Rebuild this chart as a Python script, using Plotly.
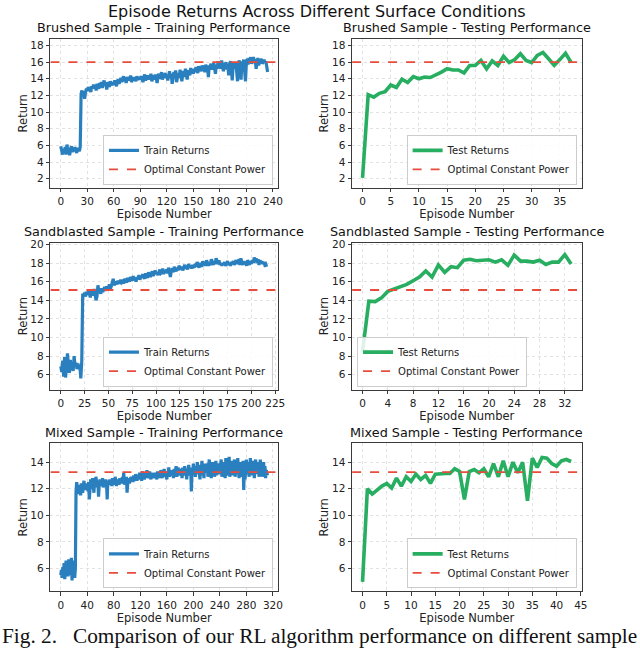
import plotly.graph_objects as go

# returns per episode
brushed_train = [
    5.9, 5.3, 4.9, 5.6, 5.1, 5.8, 4.9, 6.1, 5.2, 5.7, 4.8, 5.5, 5.9, 5.2, 5.6, 5.3, 5.8, 5.4, 5.1, 5.7, 5.5, 5.3, 5.8,
    12.2, 12.6, 11.9, 12.5, 11.6, 12.4, 12.8,
    12.5, 13.0, 12.7, 12.9, 12.4, 13.1, 12.8, 13.3, 12.9, 13.2, 12.6, 13.4, 13.0, 12.8, 13.5,
    13.1, 13.6, 12.9, 13.3, 13.8, 13.2, 13.5, 12.7, 13.6, 13.3, 13.0, 13.7, 13.4, 13.2, 13.6,
    13.3, 13.8, 13.5, 13.1, 13.7, 13.9, 13.4, 13.8, 14.1, 13.6, 13.9, 14.3, 13.7, 14.0, 13.5,
    14.2, 13.9, 14.1, 13.8, 14.4, 13.6, 14.0, 14.2, 13.8, 14.1, 13.7, 14.3, 13.9, 14.0, 14.2,
    13.9, 14.3, 14.0, 13.6, 14.2, 14.5, 13.8, 14.1, 14.4, 13.9, 14.3, 14.0, 14.6, 13.7, 14.2,
    14.4, 13.9, 14.5, 14.1, 13.5, 14.3, 14.6, 14.0, 14.2, 14.8, 13.9, 14.4, 14.1, 14.7, 14.2,
    14.5, 13.8, 14.3, 14.9, 14.1, 14.6, 13.4, 14.4, 14.8, 14.2, 15.0, 13.6, 14.5, 14.7, 14.1,
    15.1, 14.3, 13.7, 14.6, 14.9, 14.2, 15.2, 14.5, 13.9, 14.8, 15.0, 14.4, 15.3, 14.7, 14.9,
    14.6, 15.2, 14.8, 15.4, 15.0, 14.7, 15.5, 15.1, 15.3, 14.9, 15.6, 15.2, 15.4, 14.8, 15.7,
    15.3, 15.5, 14.2, 15.6, 15.4, 15.8, 15.1, 15.5, 15.9, 15.3, 14.6, 15.7, 15.2, 16.1, 15.5,
    15.8, 15.2, 16.2, 15.4, 14.9, 15.9, 15.5, 16.0, 15.1, 15.7, 14.4, 15.8, 16.1, 15.3, 13.8,
    15.6, 15.9, 15.2, 16.0, 14.9, 13.7, 15.8, 16.2, 15.4, 13.9, 16.1, 15.6, 16.3, 14.8, 13.7,
    15.9, 16.4, 15.7, 16.5, 16.1, 16.6, 15.8, 16.3, 16.6, 15.9, 16.4, 15.2, 16.2, 16.5, 15.6,
    16.3, 16.0, 16.4, 15.8, 16.2, 16.3, 15.9, 16.1, 15.5, 14.8,
]
brushed_test = [
    2.1, 12.1, 11.8, 12.25, 12.45, 13.25, 12.95, 13.95, 13.55, 14.25, 14.0, 14.2, 14.15,
    14.45, 14.8, 15.2, 15.05, 15.05, 14.7, 15.6, 15.6, 16.2, 15.2, 16.15, 15.6, 16.7,
    15.95, 16.3, 17.0, 16.2, 15.95, 16.8, 17.15, 16.4, 15.6, 16.3, 17.05, 15.95,
]
sand_train = [
    6.9, 6.3, 7.5, 5.8, 7.9, 5.7, 6.8, 8.3, 7.1, 6.2, 7.6, 6.5, 7.0, 6.4, 8.0, 6.9, 7.3, 6.6, 7.2, 6.8, 7.0, 5.6, 7.4,
    14.7, 14.5, 14.8, 14.4, 14.9, 14.6, 15.0, 14.7, 14.3, 15.1, 14.8, 14.5, 15.2, 14.6,
    14.0, 14.4, 15.6, 14.9, 15.1, 14.7, 15.3, 14.9, 15.2, 15.4, 15.0, 15.5, 15.1,
    15.3, 15.7, 15.2, 15.5, 15.9, 16.3, 15.6, 15.8, 16.0, 15.7, 16.1, 15.8, 16.0, 15.9, 16.2,
    16.0, 15.8, 16.3, 16.1, 15.9, 16.4, 16.2, 16.0, 16.5, 16.3, 16.1, 16.6, 16.2, 16.4, 16.0,
    16.5, 16.3, 16.7, 16.2, 16.6, 16.4, 16.8, 16.5, 16.3, 16.9, 16.6, 16.4, 17.0, 16.7, 16.5,
    16.8, 17.1, 16.6, 16.9, 17.2, 16.8, 17.0, 16.7, 17.1, 17.3, 16.9, 17.0, 17.4, 16.8, 17.2,
    17.0, 17.3, 16.9, 17.5, 17.1, 16.5, 17.2, 17.4, 17.0, 17.6, 17.3, 17.1, 17.5, 17.2, 17.7,
    17.4, 17.3, 17.6, 17.2, 17.5, 17.8, 17.4, 17.6, 17.3, 17.9, 17.5, 17.7, 17.4, 17.8, 17.6,
    17.5, 17.9, 17.6, 18.1, 17.7, 17.5, 18.0, 17.8, 17.6, 18.2, 17.8, 18.0, 17.7, 18.3, 17.9,
    17.7, 18.1, 17.8, 18.4, 18.0, 17.8, 18.2, 17.9, 18.5, 18.1, 17.9, 18.3, 17.8, 18.0, 17.7,
    18.0, 17.8, 18.1, 17.7, 17.9, 18.2, 17.8, 18.0, 17.7, 18.1, 17.9, 18.2, 17.8, 18.0, 18.3,
    17.9, 18.1, 18.4, 17.8, 18.5, 18.0, 17.8, 18.2, 17.9, 18.1, 17.7, 18.3, 18.0, 17.8, 18.2,
    17.9, 18.3, 18.0, 18.6, 18.1, 18.5, 18.0, 18.4, 17.8, 18.3, 18.0, 18.2, 17.9, 18.1, 17.8, 17.9, 17.6,
]
sand_test = [
    8.5, 13.9, 13.85, 14.25, 14.95, 15.2, 15.55, 15.7, 16.1, 16.5, 17.15, 16.5, 17.8, 17.0,
    17.6, 17.5, 18.3, 18.4, 18.25, 18.3, 18.35, 18.1, 18.35, 17.75, 18.85, 18.2, 18.2, 18.1,
    18.3, 17.85, 18.1, 18.1, 18.9, 17.9,
]
mixed_train = [
    5.5, 5.9, 5.3, 6.1, 5.6, 6.4, 5.2, 6.0, 6.6, 5.7, 6.3, 5.4, 6.7, 5.9, 6.2, 5.5, 6.8, 5.1, 6.5, 5.8, 6.6, 5.3, 6.0,
    11.8, 12.5, 12.0, 11.6, 12.3, 11.9, 12.1, 11.5, 12.4, 12.0, 11.7, 12.2, 12.6, 11.9, 12.3, 12.0, 12.1, 12.4, 11.8,
    12.5, 11.2, 11.9, 12.7, 12.3, 12.0, 12.8, 12.4, 11.7, 12.6, 12.2, 12.9, 12.4, 12.1, 12.5, 11.4, 12.3, 12.7,
    12.2, 12.5, 12.3, 12.8, 12.1, 12.4, 12.6, 12.2, 12.7, 12.4, 11.2, 12.6, 12.4, 12.4, 12.7, 12.3, 12.5, 12.2, 12.8, 12.4,
    12.6, 12.3, 12.9, 12.5, 12.2, 12.7, 12.4, 12.6, 12.3, 12.8, 12.5, 12.7, 12.4, 12.9, 12.6, 13.2, 12.3, 12.8, 12.5, 12.9,
    11.7, 12.4, 12.8, 12.5, 12.5, 12.7, 12.9, 12.6, 12.8, 12.5, 13.0, 12.7, 12.6, 13.1, 12.8, 12.6, 13.0, 12.7, 12.9, 13.2,
    12.8, 13.0, 12.6, 13.3, 12.9, 13.1, 12.7, 13.0, 13.2, 12.8, 13.4, 12.9, 13.1, 12.8, 13.3, 13.0, 12.7, 13.2, 12.9, 13.1,
    12.8, 13.0, 13.2, 12.9, 13.1, 12.7, 13.3, 13.0, 12.8, 13.2, 12.9, 13.4, 13.1, 12.8, 13.3, 13.0, 13.5, 12.9, 13.2, 13.0,
    12.7, 13.3, 13.1, 13.6, 12.9, 13.2, 13.0, 13.4, 13.0, 13.2, 12.8, 13.5, 13.1, 13.3, 13.7, 12.9, 13.2, 13.6, 13.0, 13.4,
    13.1, 13.5, 13.2, 12.8, 13.6, 13.3, 13.0, 13.7, 13.1, 13.4, 12.7, 13.5, 13.2, 13.8, 13.0, 13.3, 13.6, 11.8, 13.4, 13.1,
    13.9, 13.2, 13.5, 12.9, 13.7, 13.3, 14.0, 13.1, 13.6, 13.2, 12.7, 13.8, 13.4, 14.1, 13.0, 13.5, 12.8, 13.9, 13.2, 13.6,
    13.3, 13.9, 12.9, 13.6, 14.2, 13.1, 13.7, 12.8, 13.5, 14.0, 13.2, 13.8, 12.9, 13.4, 14.1, 13.0, 13.6, 13.1, 13.3, 13.9,
    13.1, 13.7, 14.2, 12.9, 13.5, 14.0, 13.2, 13.8, 12.8, 14.3, 13.4, 13.0, 13.9, 13.3, 14.4, 12.9, 13.6, 14.1, 13.2, 13.8,
    13.0, 13.7, 14.2, 12.9, 13.5, 13.9, 13.1, 14.3, 13.4, 12.8, 13.8, 14.0, 13.2, 13.6, 12.9, 14.1, 11.9, 13.7, 12.7, 13.9,
    14.2, 13.1, 13.5, 14.0, 12.9, 13.8, 14.3, 13.2, 13.6, 13.0, 14.1, 13.4, 12.8, 13.9, 14.2, 13.1, 13.7, 13.3, 14.0, 12.9,
    13.6, 14.2, 13.2, 13.8, 12.9, 13.5, 14.0, 13.1, 13.7, 12.8, 13.4, 13.2, 13.0,
]
mixed_test = [
    5.0, 12.0, 11.6, 11.9, 12.2, 12.4, 12.05, 12.8, 12.2, 12.9, 12.55, 13.1, 12.7, 13.0,
    12.4, 13.1, 13.15, 13.15, 13.15, 13.5, 13.3, 11.2, 13.3, 13.45, 13.2, 13.5, 12.9, 13.9,
    12.9, 14.1, 12.9, 14.0, 13.2, 14.0, 11.1, 14.3, 13.6, 14.35, 14.3, 13.9, 13.7, 14.1,
    14.2, 14.05,
]
optimal_power = [16.0, 15.1, 13.25]
samples = ["Brushed Sample", "Sandblasted Sample", "Mixed Sample"]

BLUE = "#2a80bf"
GREEN = "#27ae60"
RED = "#e74c3c"
FONT = "DejaVu Sans"
W, H = 640, 651

# pixel boxes of the six panels: (left, right, top, bottom)
col_px = [(51, 281), (356, 588)]
row_px = [(35, 185), (240, 388), (442, 591)]

panels = [
    # row, col, series, colour, name, x range, x dtick, y range
    (0, 0, brushed_train, BLUE, "Train Returns", [-11.7, 245.7], 30, [0.9, 18.8]),
    (0, 1, brushed_test, GREEN, "Test Returns", [-1.85, 38.85], 5, [0.9, 18.8]),
    (1, 0, sand_train, BLUE, "Train Returns", [-10.85, 227.85], 25, [4.4, 20.2]),
    (1, 1, sand_test, GREEN, "Test Returns", [-1.65, 34.65], 4, [4.4, 20.2]),
    (2, 0, mixed_train, BLUE, "Train Returns", [-15.6, 327.6], 40, [4.28, 15.42]),
    (2, 1, mixed_test, GREEN, "Test Returns", [-2.15, 45.15], 5, [4.28, 15.42]),
]

fig = go.Figure()
layout = {}

for i, (r, c, ys, color, name, xr, xdt, yr) in enumerate(panels):
    n = i + 1
    xa = "x" if n == 1 else f"x{n}"
    ya = "y" if n == 1 else f"y{n}"
    leg = "legend" if n == 1 else f"legend{n}"
    l, rr = col_px[c]
    t, b = row_px[r]

    fig.add_trace(go.Scatter(
        x=list(range(len(ys))), y=ys, mode="lines", name=name,
        line=dict(color=color, width=3.2 if c == 0 else 3.6),
        xaxis=xa, yaxis=ya, legend=leg,
    ))
    fig.add_trace(go.Scatter(
        x=xr, y=[optimal_power[r]] * 2, mode="lines", name="Optimal Constant Power",
        line=dict(color=RED, width=1.8, dash="dash"),
        xaxis=xa, yaxis=ya, legend=leg,
    ))

    common = dict(
        showline=True, mirror=True, linecolor="#3a3a3a", linewidth=1.2,
        showgrid=True, gridcolor="#e2e2e2", griddash="dot", gridwidth=1,
        ticks="outside", ticklen=3.5, tickcolor="#3a3a3a", zeroline=False,
        tickfont=dict(family=FONT, size=10.5, color="#222"),
    )
    layout["xaxis" if n == 1 else f"xaxis{n}"] = dict(
        common, domain=[l / W, rr / W], range=xr, tick0=0, dtick=xdt,
        anchor=ya, title=dict(text="Episode Number", standoff=0,
                              font=dict(family=FONT, size=11.5, color="#222")),
    )
    layout["yaxis" if n == 1 else f"yaxis{n}"] = dict(
        common, domain=[1 - b / H, 1 - t / H], range=yr, tick0=0, dtick=2,
        anchor=xa, title=dict(text="Return", standoff=0,
                              font=dict(family=FONT, size=11.5, color="#222")),
    )

    # legend placement: lower right, except sandblasted test (lower left)
    if (r, c) == (1, 1):
        lx, lxa = (l + 5) / W, "left"
    else:
        lx, lxa = (rr - 5) / W, "right"
    layout[leg] = dict(
        x=lx, xanchor=lxa, y=1 - (b - 3) / H, yanchor="bottom",
        bgcolor="rgba(255,255,255,0.85)", bordercolor="#cccccc", borderwidth=1,
        font=dict(family=FONT, size=10, color="#222"), tracegroupgap=0,
        itemwidth=30,
    )

    kind = "Training" if c == 0 else "Testing"
    fig.add_annotation(
        text=f"{samples[r]} - {kind} Performance", x=(l + rr) / 2 / W,
        y=1 - (t - 11) / H, xref="paper", yref="paper", showarrow=False,
        xanchor="center", yanchor="middle",
        font=dict(family=FONT, size=12.8, color="#111"),
    )

fig.add_annotation(
    text="Episode Returns Across Different Surface Conditions", x=0.5,
    y=1 - 8 / H, xref="paper", yref="paper", showarrow=False,
    xanchor="center", yanchor="middle",
    font=dict(family=FONT, size=16, color="#111"),
)
fig.add_annotation(
    text="Fig. 2.   Comparison of our RL algorithm performance on different sample",
    x=0.0, xanchor="left", y=1 - 636 / H, yref="paper", xref="paper",
    showarrow=False, yanchor="middle",
    font=dict(family="Liberation Serif", size=21.3, color="#111"),
)

fig.update_layout(
    width=W, height=H, margin=dict(l=0, r=0, t=0, b=0),
    paper_bgcolor="white", plot_bgcolor="white", **layout,
)
fig.write_html(
    "out.html",
    config={"displayModeBar": False},
    post_script="document.body.style.margin='0';document.body.style.overflow='hidden';",
)
